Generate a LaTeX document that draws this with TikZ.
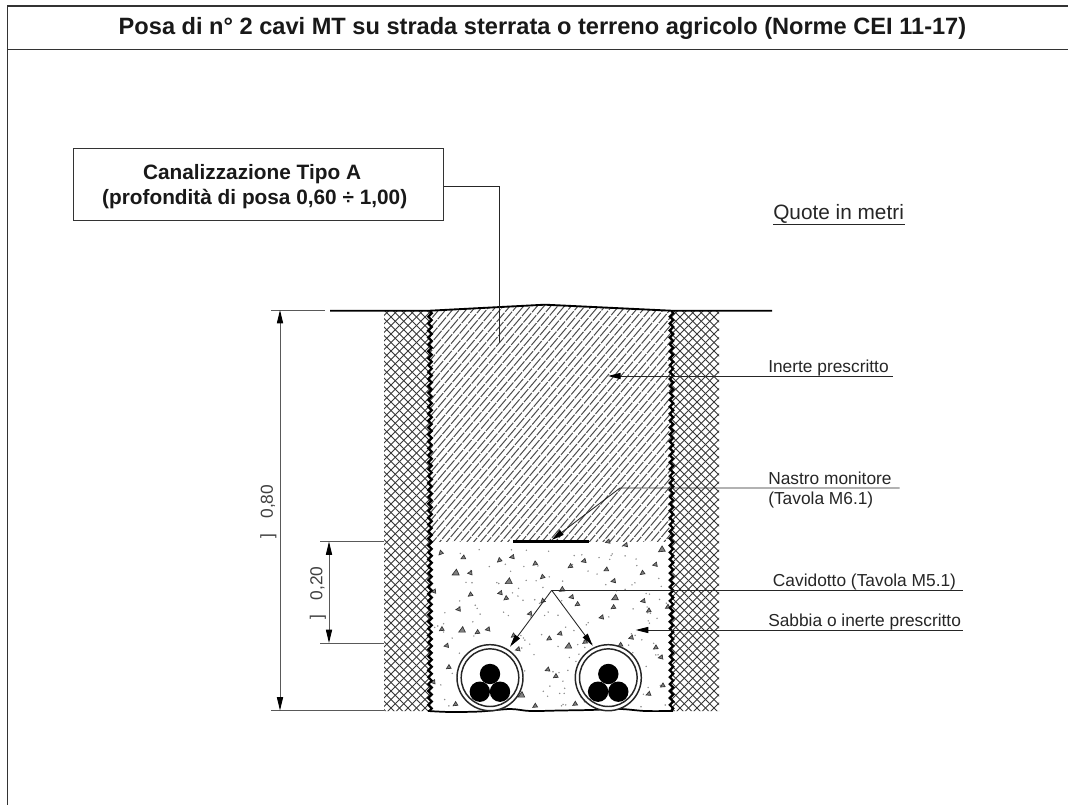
\documentclass[tikz,border=0pt]{standalone}
\usepackage{fontspec}
\setmainfont{Liberation Sans}
\usetikzlibrary{arrows.meta,decorations.pathmorphing}
\tikzset{
  frameline/.style={line width=1.3pt,black!80},
  leader/.style={line width=.65pt,black!85},
  dimline/.style={line width=.7pt,black!65},
  arrowlead/.style={leader,-{Triangle[length=9.5pt,width=4.6pt,black]}},
  dimarrow/.style={dimline,{Triangle[length=10pt,width=4.6pt,black]}-{Triangle[length=10pt,width=4.6pt,black]}},
  labeltext/.style={anchor=base west,inner sep=0pt,font=\fontsize{13}{15}\selectfont,text=black!85},
  dimtext/.style={rotate=90,inner sep=0pt,font=\fontsize{13}{15}\selectfont,text=black!75},
  wavy/.style={line width=1.7pt,black,decorate,decoration={snake,amplitude=1.3pt,segment length=5.2pt}},
  crossline/.style={line width=.72pt,black!78},
  slantline/.style={line width=.75pt,black!70},
  pipering/.style={line width=1.1pt,black!85,fill=white},
  cablecore/.style={fill=black},
  aggregate/.style={line width=.5pt,draw=black!80,fill=black!50}
}
\begin{document}
\begin{tikzpicture}[x=.75pt,y=-.75pt]
\useasboundingbox (0,0) rectangle (1068,805);
\fill[white] (0,0) rectangle (1068,805);
% frame
\draw[frameline] (7.5,805) -- (7.5,6) -- (1068,6);
\draw[frameline] (7.5,49.5) -- (1068,49.5);
\node[anchor=base,inner sep=0pt,font=\bfseries\fontsize{17.7}{20}\selectfont,text=black!90] (title) at (542.5,35) {Posa di n° 2 cavi MT su strada sterrata o terreno agricolo (Norme CEI 11-17)};
% soil crosshatch
\begin{scope}
\clip (384,311) rectangle (430,711) (671,311) rectangle (719,711);
\foreach \i in {-51,-42.5,...,1200} {
  \draw[crossline] (\i,300) -- (\i-420,720);
  \draw[crossline] (\i,300) -- (\i+420,720);
}
\end{scope}
% inert fill
\begin{scope}
\clip (430,311) -- (545,305) -- (671,311) -- (671,542) -- (430,542) -- cycle;
\foreach \i [count=\k] in {0,6.8,...,500} {
  \pgfmathsetmacro\ph{mod(mod(\k*\k,101)*29,101)/10}
  \draw[slantline,dash pattern=on 9pt off 1pt,dash phase=\ph pt] (\i+200,560) -- (\i+200+220,300);
}
\end{scope}
% sand
\pgfmathsetseed{4217}
\foreach \n in {1,...,150} {
  \pgfmathsetmacro\X{434+rnd*234}
  \pgfmathsetmacro\Y{546+rnd*162}
  \fill[black!45] (\X,\Y) circle[radius=.8];
}
\foreach \a/\b/\r/\s in {
212/68/20/.85,280/82/0/.85,388/90/15/.85,427/80/-15/.85,495/100/10/.85,601/108/5/.85,642/92/-10/.85,709/118/0/.85,817/128/10/.85,856/103/-15/.85,875/58/5/1.2,
257/128/0/1.25,301/128/-20/.85,416/154/0/1.25,517/140/15/.85,731/152/-15/.85,192/183/-20/.85,301/193/10/.85,391/188/-15/.85,408/204/10/.85,576/178/5/1,
605/200/-15/.85,735/203/0/1.2,820/212/-15/.85,622/222/5/.85,730/231/5/.85,836/241/5/.85,266/237/-20/.85,518/212/15/.85,480/250/-15/.85,695/261/-15/.85,893/230/5/.85,
215/297/5/.85,276/300/0/1.2,322/306/5/.85,354/297/-15/.85,430/316/10/.85,570/310/-10/.85,537/325/5/.85,784/322/-10/.85,645/335/5/.85,230/346/-15/.85,444/357/-10/.85,
595/348/0/1.2,751/344/5/.85,857/352/5/.85,873/381/-15/.85,236/411/5/.85,533/418/-5/.85,557/438/5/.85,878/466/5/.85,836/491/-5/.85,454/495/0/1.2,256/522/5/.85,495/527/5/.85,615/521/5/.85,190/455/-20/.85,714/34/-10/.85,767/44/-15/.85} {
  \pgfmathsetmacro\X{370+\a/3}
  \pgfmathsetmacro\Y{530+\b/3}
  \draw[aggregate,shift={(\X,\Y)},rotate=\r,scale=\s] (-2.8,1.8) -- (2.8,1.8) -- (.6,-2.8) -- cycle;
}
% trench walls
\draw[wavy] (430,311) -- (430,711);
\draw[wavy] (671.5,311) -- (671.5,711);
\draw[line width=1.3pt,black] plot[smooth] coordinates {(428,711) (450,712) (480,711.5) (510,709) (530,711) (560,710.5) (590,710) (620,709) (645,711) (673,711)};
% ground line
\draw[line width=1.4pt,black] (330,310.7) -- (430,310.7) -- (545,304.7) -- (671,310.7) -- (772,310.7);
% pipes
\foreach \cx in {490,608.3} {
  \draw[pipering] (\cx,677.7) circle[radius=33];
  \draw[pipering] (\cx,677.7) circle[radius=28.8];
  \fill[cablecore] (\cx,674) circle[radius=10.2];
  \fill[cablecore] (\cx-10.2,691.7) circle[radius=10.2];
  \fill[cablecore] (\cx+10,691.7) circle[radius=10.2];
}
% warning tape
\coordinate (tapeL) at (513,541.3);
\coordinate (tapeR) at (589,541.3);
\draw[line width=2.2pt,black] (tapeL) -- (tapeR);
% dimensions
\coordinate (topA) at (271,310);
\coordinate (topB) at (325,310);
\coordinate (botA) at (271,710.5);
\coordinate (botB) at (384,710.5);
\coordinate (midA) at (320,541.5);
\coordinate (midB) at (384,541.5);
\coordinate (lowA) at (320,643);
\coordinate (lowB) at (384,643);
\draw[dimline] (topA) -- (topB);
\draw[dimline] (botA) -- (botB);
\draw[dimline] (midA) -- (midB);
\draw[dimline] (lowA) -- (lowB);
\coordinate (d1a) at (280,310);
\coordinate (d1b) at (280,710.5);
\coordinate (d2a) at (329,541.5);
\coordinate (d2b) at (329,643);
\draw[dimarrow] (d1a) -- (d1b);
\draw[dimarrow] (d2a) -- (d2b);
\node[dimtext] (q80) at (268.5,511.5) {]\hspace{11pt}0,80};
\node[dimtext] (q20) at (318,593) {]\hspace{11pt}0,20};
% type box
\node[draw=black!80,line width=.8pt,fill=white,inner sep=0pt,anchor=north west,minimum width=277.5pt,minimum height=54pt,align=center,font=\bfseries\fontsize{15.6}{18.7}\selectfont,text=black!90] (typebox) at (72.5,148) {\rule{0pt}{14.5pt}Canalizzazione Tipo A\kern9pt\\(profondità di posa 0,60 ÷ 1,00)\kern5pt};
\coordinate (tyBend) at (499,186);
\coordinate (tyEnd) at (499,343);
\draw[leader] (typebox.east |- tyBend) -- (tyBend) -- (tyEnd);
% labels
\node[labeltext,font=\fontsize{15.6}{18}\selectfont] (quote) at (773,220) {Quote in metri};
\draw[leader] (quote.base west |- 0,224.7) -- (905,224.7);
\node[labeltext] (inerte) at (768,372.5) {Inerte prescritto};
\coordinate (inerteEnd) at (892.7,376);
\coordinate (inerteTip) at (608,376);
\draw[arrowlead] (inerteEnd) -- (inerteTip);
\node[labeltext] (nastro) at (768,484.5) {Nastro monitore};
\node[labeltext] (tavola) at (768,505) {(Tavola M6.1)};
\coordinate (nastroEnd) at (899.5,488);
\coordinate (nastroBend) at (620,488);
\coordinate (nastroTip) at (551.7,540);
\draw[arrowlead] (nastroEnd) -- (nastroBend) -- (nastroTip);
\node[labeltext] (cavi) at (772.7,586.5) {Cavidotto (Tavola M5.1)};
\coordinate (caviEnd) at (962.7,590.3);
\coordinate (apex) at (551.7,590.3);
\coordinate (tipL) at (510,646.7);
\coordinate (tipR) at (592.7,645.7);
\draw[leader] (caviEnd) -- (apex);
\draw[arrowlead] (apex) -- (tipL);
\draw[arrowlead] (apex) -- (tipR);
\node[labeltext] (sabbia) at (768,626.5) {Sabbia o inerte prescritto};
\coordinate (sabbiaEnd) at (962.7,630);
\coordinate (sabbiaTip) at (635.7,630);
\draw[arrowlead] (sabbiaEnd) -- (sabbiaTip);
\end{tikzpicture}
\end{document}
